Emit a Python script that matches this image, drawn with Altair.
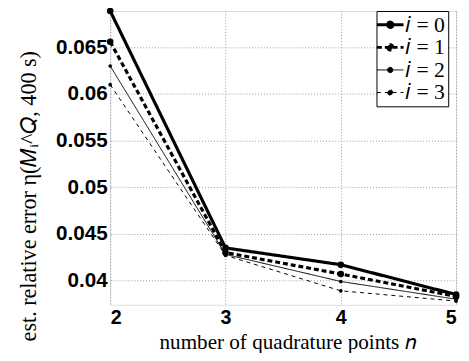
import altair as alt
import pandas as pd

n_points = [2, 3, 4, 5]
series_labels = ["𝑖 = 0", "𝑖 = 1", "𝑖 = 2", "𝑖 = 3"]
err_i0 = [0.0689, 0.0435, 0.0417, 0.0385]
err_i1 = [0.0656, 0.0430, 0.0407, 0.0383]
err_i2 = [0.0630, 0.0428, 0.0399, 0.0380]
err_i3 = [0.0610, 0.0427, 0.0389, 0.0378]
y_ticks = [0.04, 0.045, 0.05, 0.055, 0.06, 0.065]

rows = []
for k, (lab, vals) in enumerate(zip(series_labels, [err_i0, err_i1, err_i2, err_i3])):
    for n, v in zip(n_points, vals):
        rows.append({"n": n, "err": v, "series": lab, "k": k})
df = pd.DataFrame(rows)

x = alt.X("n:Q", scale=alt.Scale(domain=[2, 5], nice=False),
          axis=alt.Axis(values=n_points, format="d", title="number of quadrature points 𝑛",
                        labelFont="Liberation Sans", labelFontWeight="bold", labelFontSize=20,
                        labelColor="black", labelPadding=3, ticks=False, domain=False,
                        titleFont="Liberation Serif", titleFontSize=21.5, titleFontWeight="normal",
                        titleColor="black", titleBaseline="alphabetic", titleY=44, titleX=180,
                        grid=True, gridDash=[1, 2], gridColor="#999999"))
y = alt.Y("err:Q", scale=alt.Scale(domain=[0.0374, 0.0689], nice=False, zero=False),
          axis=alt.Axis(values=y_ticks, title="est. relative error η(𝑀ᵢ^𝑄, 400 s)",
                        labelFont="Liberation Sans", labelFontWeight="bold", labelFontSize=21,
                        labelColor="black", labelPadding=3, ticks=False, domain=False,
                        labelExpr="format(datum.value, '.3~f')",
                        titleFont="Liberation Serif", titleFontSize=22.5, titleFontWeight="normal",
                        titleColor="black", titleBaseline="alphabetic", titleX=-76, titleY=188,
                        grid=True, gridDash=[1, 2], gridColor="#999999"))

legend_symbol = "M-1,0H1M-0.2,0a0.2,0.2 0 1,0 0.4,0a0.2,0.2 0 1,0 -0.4,0"

lines = alt.Chart(df).transform_calculate(
    w="datum.k < 2 ? 3.2 : 1"
).mark_line().encode(
    x=x, y=y,
    color=alt.Color("series:N", scale=alt.Scale(domain=series_labels, range=["black"] * 4),
                    legend=alt.Legend(title=None, orient="none", legendX=271, legendY=0,
                                      symbolType=legend_symbol, symbolSize=729,
                                      labelFont="Liberation Serif", labelFontSize=22,
                                      labelColor="black", strokeColor="black",
                                      fillColor="white", padding=3, rowPadding=1,
                                      labelOffset=4, symbolOffset=0,
                                      symbolFillColor="black",
                                      symbolStrokeWidth=alt.ExprRef(
                                          expr="datum.index < 2 ? 3 : 1"))),
    strokeDash=alt.StrokeDash("series:N", scale=alt.Scale(domain=series_labels,
                              range=[[1, 0], [5, 3], [1, 0], [4, 4]])),
    strokeWidth=alt.StrokeWidth("w:Q", scale=None),
)

points = alt.Chart(df).transform_calculate(
    ms="datum.k < 2 ? 45 : 14"
).mark_point(filled=True, shape="circle", color="black", opacity=1).encode(
    x=x, y=y,
    size=alt.Size("ms:Q", scale=None),
)

chart = alt.layer(lines, points).properties(
    width=352, height=299,
    autosize=alt.AutoSizeParams(type="none"),
    padding={"left": 104, "top": 0, "right": 5, "bottom": 46},
).configure_view(stroke="black", strokeWidth=1.2).configure(background="white")

chart.save("out.html", embed_options={"renderer": "svg", "actions": False})
